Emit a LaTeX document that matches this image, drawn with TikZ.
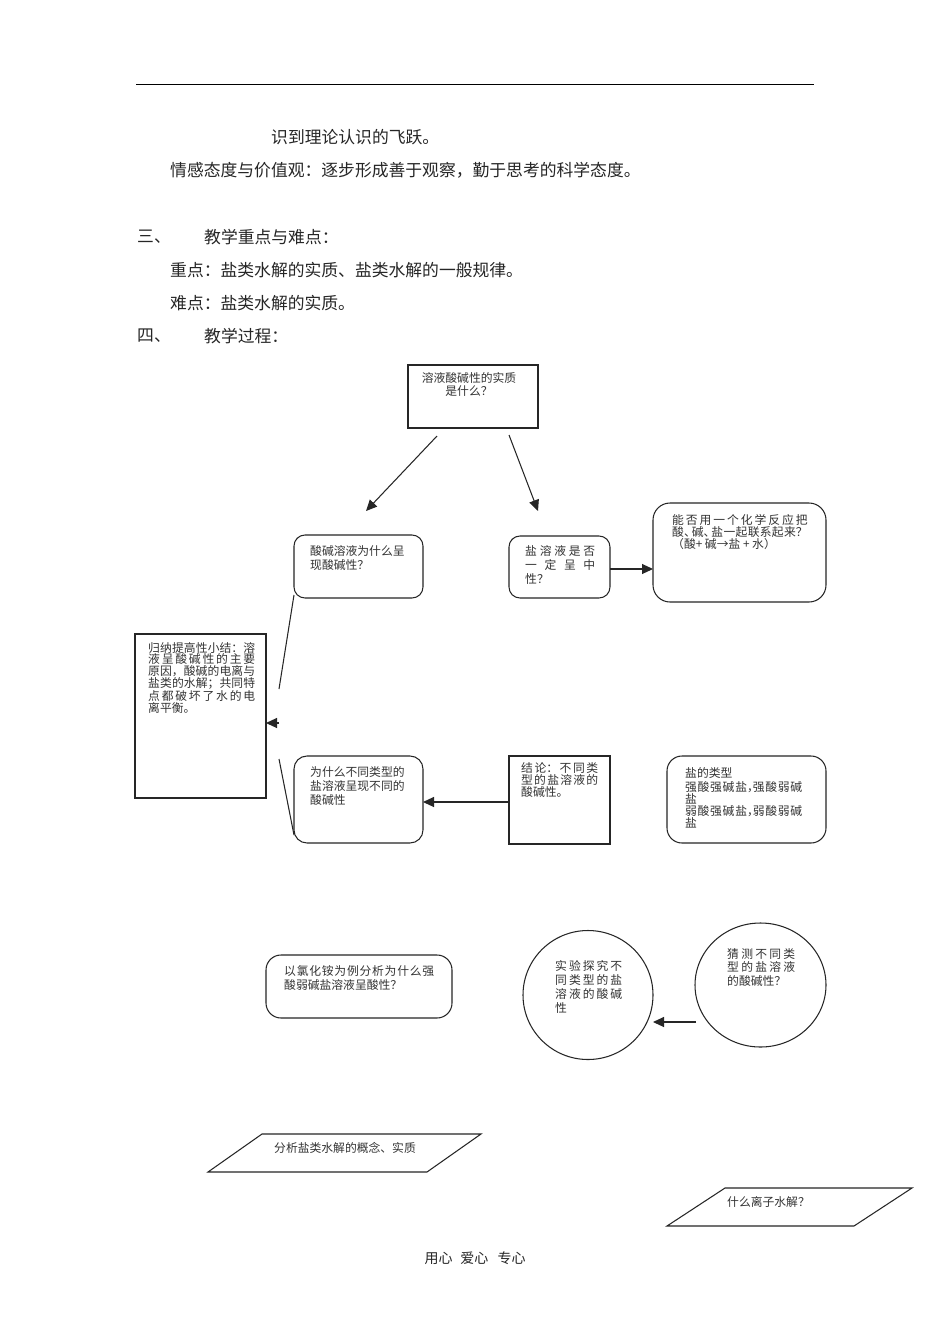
\documentclass[tikz,border=0pt]{standalone}
\usepackage{fontspec}
\setmainfont{Noto Sans CJK SC}
\usetikzlibrary{arrows.meta}
\XeTeXlinebreaklocale "zh"
\XeTeXlinebreakskip=0pt plus 3pt
\hbadness=10000
\hfuzz=2pt
\tikzset{
  x=1pt,y=-1pt,
  body/.style={anchor=west,inner sep=0pt,font=\fontsize{16.8}{18}\selectfont,text=black!85},
  txt/.style={anchor=north west,inner sep=0pt,align=justify,text=black!80,font=\fontsize{11.8}{#1}\selectfont},
  txt/.default=12,
  sq/.style={draw=black!85,line width=1.05pt,rectangle,inner sep=0pt},
  rd/.style={sq,rounded corners=#1},
  rd/.default=11pt,
  circ/.style={draw=black!85,line width=1.05pt,ellipse,inner sep=0pt},
  para/.style={draw=black!85,line width=1.05pt},
  conn/.style={draw=black!85,line width=1.05pt},
  arr/.style={conn,-{Triangle[length=11pt,width=10pt]}},
}
\usetikzlibrary{shapes.geometric}
\begin{document}
\begin{tikzpicture}
\useasboundingbox (0,0) rectangle (950,1344);
\fill[white] (0,0) rectangle (950,1344);
% header rule
\coordinate (ruleL) at (136,84);
\coordinate (ruleR) at (814,84);
\draw[black,line width=1pt] (ruleL) -- (ruleR);
% body text
\node[body] (l1) at (271,137) {识到理论认识的飞跃。};
\node[body] (l2) at (170,170) {情感态度与价值观：逐步形成善于观察，勤于思考的科学态度。};
\node[body] (l3a) at (137,237) {三、};
\node[body] (l3b) at (204,237) {教学重点与难点：};
\node[body] (l4) at (170,270) {重点：盐类水解的实质、盐类水解的一般规律。};
\node[body] (l5) at (170,303) {难点：盐类水解的实质。};
\node[body] (l6a) at (137,336) {四、};
\node[body] (l6b) at (204,336) {教学过程：};
% boxes
\node[sq,minimum width=130pt,minimum height=63pt] (top) at (473,396.5) {};
\node[rd,minimum width=129pt,minimum height=63pt] (acid) at (358.5,566.5) {};
\node[rd,minimum width=101pt,minimum height=62pt] (salt) at (559.5,567) {};
\node[rd=17pt,minimum width=173pt,minimum height=99pt] (react) at (739.5,552.5) {};
\node[sq,minimum width=131pt,minimum height=164pt] (sum) at (200.5,716) {};
\node[rd=13pt,minimum width=129pt,minimum height=87pt] (why) at (358.5,799.5) {};
\node[sq,minimum width=101pt,minimum height=88pt] (concl) at (559.5,800) {};
\node[rd=15pt,minimum width=159pt,minimum height=87pt] (types) at (746.5,799.5) {};
\node[rd=15pt,minimum width=186pt,minimum height=63pt] (nh4) at (359,986.5) {};
\node[circ,minimum width=130pt,minimum height=129pt] (exp) at (588,995) {};
\node[circ,minimum width=131pt,minimum height=124pt] (guess) at (760.5,985) {};
% parallelograms
\coordinate (pa) at (262,1134);
\coordinate (pb) at (481,1134);
\coordinate (pc) at (427,1172);
\coordinate (pd) at (208,1172);
\draw[para] (pa) -- (pb) -- (pc) -- (pd) -- cycle;
\coordinate (qa) at (725,1188);
\coordinate (qb) at (912,1188);
\coordinate (qc) at (854,1226);
\coordinate (qd) at (667,1226);
\draw[para] (qa) -- (qb) -- (qc) -- (qd) -- cycle;
% box texts
\node[anchor=north,inner sep=0pt,align=center,text=black!80,font=\fontsize{11.8}{13}\selectfont] (ttop) at (469,372) {溶液酸碱性的实质\\是什么？};
\node[txt=14,text width=100pt] (tacid) at (310,545) {酸碱溶液为什么呈\\现酸碱性？};
\node[txt=14,text width=70pt] (tsalt) at (525,545) {盐溶液是否\linebreak 一定呈中\linebreak 性？};
\node[txt=12,text width=135.5pt] (treact) at (672,514) {能否用一个化学反应把\linebreak 酸、\kern-4pt 碱、\kern-4pt 盐一起联系起来？\linebreak （酸+ 碱→盐 + 水）};
\node[txt=11.8,text width=107pt] (tsum) at (148,642) {归纳提高性小结：溶\linebreak 液呈酸碱性的主要\linebreak 原因，酸碱的电离与\linebreak 盐类的水解；共同特\linebreak 点都破坏了水的电\linebreak 离平衡。};
\node[txt=14,text width=100pt] (twhy) at (310,766) {为什么不同类型的\\盐溶液呈现不同的\\酸碱性};
\node[txt=12,text width=77pt] (tconcl) at (521,762) {结论：不同类\linebreak 型的盐溶液的\linebreak 酸碱性。};
\node[txt=12,text width=117pt] (ttypes) at (685,767) {盐的类型\\[2pt]强酸强碱盐，\kern-6pt 强酸弱碱\linebreak 盐\\弱酸强碱盐，\kern-6pt 弱酸弱碱\linebreak 盐};
\node[txt=14,text width=150pt] (tnh4) at (284,965) {以氯化铵为例分析为什么强\linebreak 酸弱碱盐溶液呈酸性？};
\node[txt=14,text width=67pt] (texp) at (555,960) {实验探究不\linebreak 同类型的盐\linebreak 溶液的酸碱\linebreak 性};
\node[txt=13.5,text width=68pt] (tguess) at (727,948) {猜测不同类\linebreak 型的盐溶液\linebreak 的酸碱性？};
\node[txt,text width=145pt] (tp1) at (274,1142) {分析盐类水解的概念、实质};
\node[txt,text width=90pt] (tp2) at (727,1196) {什么离子水解？};
% footer
\node[anchor=center,inner sep=0pt,text=black!85,font=\fontsize{14}{14}\selectfont] (foot) at (475,1258) {用心\hspace{8pt}爱心\hspace{9pt}专心};
% connectors
\coordinate (a1s) at (437,436); \coordinate (a1e) at (366,511);
\coordinate (a2s) at (509,435); \coordinate (a2e) at (538,511);
\draw[arr] (a1s) -- (a1e);
\draw[arr] (a2s) -- (a2e);
\coordinate (saltR) at (610,569); \coordinate (reactL) at (653,569);
\draw[arr] (saltR) -- (reactL);
\coordinate (acidC) at (294,595); \coordinate (j1) at (279,689);
\draw[conn] (acidC) -- (j1);
\coordinate (whyC) at (294,835); \coordinate (j2) at (279,759);
\draw[conn] (j2) -- (whyC);
\coordinate (j3) at (279,723); \coordinate (sumR) at (266,723);
\draw[arr] (j3) -- (sumR);
\coordinate (conclL) at (509,802); \coordinate (whyR) at (423,802);
\draw[arr] (conclL) -- (whyR);
\coordinate (guessL) at (696,1022); \coordinate (expR) at (653,1022);
\draw[arr] (guessL) -- (expR);
\end{tikzpicture}
\end{document}
